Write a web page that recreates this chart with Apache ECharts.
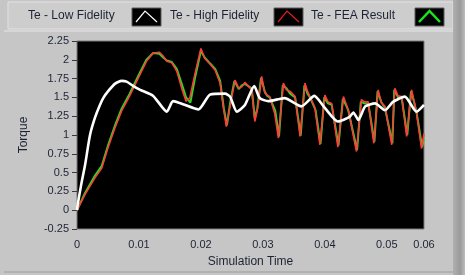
<!DOCTYPE html>
<html>
<head>
<meta charset="utf-8">
<script src="https://cdn.jsdelivr.net/npm/echarts@6/dist/echarts.min.js"></script>
<style>
html,body{margin:0;padding:0;background:#c6c6c6;}
#chart{width:465px;height:275px;}
</style>
</head>
<body>
<div id="chart"></div>
<script>
// ---- data ----
var seriesNames = ['Te - Low Fidelity', 'Te - High Fidelity', 'Te - FEA Result'];

var timeLow   = [0, 0.0001, 0.0007, 0.0013, 0.0021, 0.0029, 0.0037, 0.0043, 0.0050, 0.0061, 0.0072, 0.0080, 0.0091, 0.0102, 0.0123, 0.0145, 0.0155, 0.0171, 0.0196, 0.0215, 0.0239, 0.0247, 0.0258, 0.0271, 0.0286, 0.0295, 0.0309, 0.0327, 0.0335, 0.0362, 0.0383, 0.0400, 0.0421, 0.0440, 0.0446, 0.0454, 0.0465, 0.0481, 0.0497, 0.0510, 0.0529, 0.0548, 0.0560];
var torqueLow = [0, 0.07, 0.35, 0.60, 1.00, 1.23, 1.40, 1.50, 1.58, 1.68, 1.72, 1.71, 1.65, 1.60, 1.52, 1.31, 1.45, 1.41, 1.34, 1.54, 1.55, 1.51, 1.31, 1.40, 1.65, 1.49, 1.45, 1.48, 1.49, 1.38, 1.52, 1.36, 1.18, 1.24, 1.30, 1.20, 1.38, 1.42, 1.33, 1.44, 1.51, 1.31, 1.40];

var timeHigh   = [0, 0.0013, 0.0029, 0.0040, 0.0050, 0.0061, 0.0072, 0.0085, 0.0099, 0.0112, 0.0123, 0.0133, 0.0139, 0.0145, 0.0153, 0.0161, 0.0169, 0.0176, 0.0182, 0.0190, 0.0200, 0.0206, 0.0215, 0.0223, 0.0231, 0.0236, 0.0241, 0.0247, 0.0255, 0.0261, 0.0266, 0.0271, 0.0274, 0.0282, 0.0287, 0.0292, 0.0298, 0.0303, 0.0307, 0.0311, 0.0319, 0.0325, 0.0333, 0.0338, 0.0344, 0.0352, 0.0360, 0.0368, 0.0372, 0.0376, 0.0384, 0.0392, 0.0400, 0.0405, 0.0411, 0.0421, 0.0430, 0.0434, 0.0438, 0.0451, 0.0459, 0.0464, 0.0470, 0.0479, 0.0486, 0.0491, 0.0497, 0.0508, 0.0513, 0.0518, 0.0524, 0.0532, 0.0540, 0.0544, 0.0548, 0.0556, 0.0560];
var torqueHigh = [0, 0.21, 0.43, 0.56, 0.83, 1.09, 1.32, 1.52, 1.76, 1.98, 2.09, 2.10, 2.05, 1.98, 1.96, 1.85, 1.62, 1.45, 1.49, 1.80, 2.15, 2.02, 1.94, 1.86, 1.69, 1.38, 1.11, 1.38, 1.73, 1.62, 1.64, 1.70, 1.69, 1.60, 1.18, 1.38, 1.78, 1.56, 1.53, 1.51, 1.29, 0.96, 1.69, 1.60, 1.58, 1.51, 0.98, 1.69, 1.58, 1.51, 1.36, 0.87, 1.53, 1.44, 1.42, 0.84, 1.51, 1.42, 1.33, 0.78, 1.47, 1.44, 1.44, 0.89, 1.60, 1.43, 1.38, 0.87, 1.62, 1.52, 1.51, 0.98, 1.60, 1.45, 1.29, 0.82, 1.02];

var timeFEA   = [0, 0.0013, 0.0029, 0.0040, 0.0050, 0.0061, 0.0072, 0.0085, 0.0099, 0.0112, 0.0123, 0.0133, 0.0139, 0.0145, 0.0153, 0.0161, 0.0169, 0.0176, 0.0183, 0.0190, 0.0200, 0.0206, 0.0215, 0.0223, 0.0231, 0.0237, 0.0242, 0.0247, 0.0254, 0.0261, 0.0266, 0.0271, 0.0274, 0.0282, 0.0287, 0.0291, 0.0297, 0.0303, 0.0307, 0.0311, 0.0320, 0.0326, 0.0332, 0.0338, 0.0344, 0.0352, 0.0361, 0.0367, 0.0372, 0.0376, 0.0385, 0.0393, 0.0399, 0.0405, 0.0411, 0.0422, 0.0429, 0.0434, 0.0438, 0.0452, 0.0458, 0.0464, 0.0470, 0.0480, 0.0485, 0.0491, 0.0497, 0.0509, 0.0512, 0.0518, 0.0524, 0.0533, 0.0539, 0.0544, 0.0548, 0.0557, 0.0560];
var torqueFEA = [0, 0.23, 0.46, 0.59, 0.86, 1.12, 1.35, 1.55, 1.79, 2.00, 2.09, 2.08, 2.03, 1.99, 1.97, 1.88, 1.68, 1.50, 1.43, 1.74, 2.12, 2.03, 1.95, 1.88, 1.72, 1.35, 1.13, 1.42, 1.72, 1.61, 1.66, 1.68, 1.66, 1.62, 1.22, 1.35, 1.76, 1.58, 1.52, 1.50, 1.32, 0.98, 1.66, 1.62, 1.55, 1.50, 0.99, 1.66, 1.55, 1.50, 1.33, 0.88, 1.50, 1.42, 1.40, 0.86, 1.48, 1.40, 1.32, 0.80, 1.44, 1.42, 1.42, 0.91, 1.58, 1.44, 1.36, 0.89, 1.60, 1.50, 1.49, 1.00, 1.58, 1.44, 1.30, 0.84, 0.95];

var xTickValues = [0, 0.01, 0.02, 0.03, 0.04, 0.05, 0.056];
var xTickLabels = ['0', '0.01', '0.02', '0.03', '0.04', '0.05', '0.06'];
var yMin = -0.25, yMax = 2.25, yStep = 0.25;
var xMin = 0, xMax = 0.056;

function pairs(t, v) { return t.map(function (x, i) { return [x, v[i]]; }); }

var chart = echarts.init(document.getElementById('chart'), null, {renderer: 'canvas'});
var FONT = 'Liberation Sans';
var TXT = '#1c2333';

// legend (drawn as graphic: text + black sample boxes)
var legendItems = [
  {text: seriesNames[0], tx: 28, bx: 132, color: '#ffffff', w: 1.2, peak: 0.45},
  {text: seriesNames[1], tx: 170, bx: 274, color: '#e02020', w: 1.2, peak: 0.45},
  {text: seriesNames[2], tx: 311, bx: 415, color: '#18e818', w: 2.5, peak: 0.5}
];
var graphics = [
  {type: 'rect', shape: {x: 0, y: 0, width: 465, height: 275}, style: {fill: '#c6c6c6'}, z: -10, silent: true},
  {type: 'rect', shape: {x: 8, y: 2, width: 445, height: 27}, style: {fill: '#cdcdcd', stroke: '#e2e2e2', lineWidth: 1}, z: -9, silent: true},
  {type: 'rect', shape: {x: 453, y: 0, width: 12, height: 275}, style: {fill: new echarts.graphic.LinearGradient(0, 0, 1, 0, [{offset: 0, color: '#b0b0b0'}, {offset: 0.6, color: '#9a9a9a'}, {offset: 1, color: '#bdbdbd'}])}, z: -9, silent: true},
  {type: 'line', shape: {x1: 4, y1: 31, x2: 453, y2: 31}, style: {stroke: '#e6e6e6', lineWidth: 1}, z: -9, silent: true},
  {type: 'line', shape: {x1: 4, y1: 272, x2: 453, y2: 272}, style: {stroke: '#9c9c9c', lineWidth: 1}, z: -9, silent: true}
];
legendItems.forEach(function (it) {
  graphics.push({type: 'text', x: it.tx, y: 16, style: {text: it.text, font: '12px "' + FONT + '"', fill: TXT, verticalAlign: 'middle'}, z: 10});
  graphics.push({type: 'rect', shape: {x: it.bx, y: 8, width: 29, height: 18}, style: {fill: '#000', stroke: '#5a5a5a', lineWidth: 1}, z: 10});
  var px = it.bx + 29 * it.peak;
  graphics.push({type: 'polyline', shape: {points: [[it.bx + 4, 22], [px, 11], [it.bx + 25, 22]]}, style: {stroke: it.color, lineWidth: it.w, fill: null}, z: 11});
});

var option = {
  animation: false,
  backgroundColor: '#c6c6c6',
  textStyle: {fontFamily: FONT},
  graphic: graphics,
  grid: {left: 77, right: 41, top: 41, bottom: 46, show: true, backgroundColor: '#000000', borderColor: '#7a7a7a', borderWidth: 1},
  xAxis: {
    type: 'value', min: xMin, max: xMax,
    name: 'Simulation Time', nameLocation: 'middle', nameGap: 27,
    nameTextStyle: {color: TXT, fontSize: 12, fontFamily: FONT},
    axisLine: {show: false},
    axisTick: {show: false, customValues: xTickValues},
    splitLine: {show: false},
    axisLabel: {
      customValues: xTickValues, color: TXT, fontSize: 11, fontFamily: FONT, margin: 10,
      formatter: function (v) {
        var i = xTickValues.indexOf(v);
        if (i < 0) { for (var k = 0; k < xTickValues.length; k++) { if (Math.abs(xTickValues[k] - v) < 1e-9) { i = k; break; } } }
        return i >= 0 ? xTickLabels[i] : '';
      }
    }
  },
  yAxis: {
    type: 'value', min: yMin, max: yMax, interval: yStep,
    name: 'Torque', nameLocation: 'middle', nameGap: 47, nameRotate: 90,
    nameTextStyle: {color: TXT, fontSize: 12, fontFamily: FONT},
    axisLine: {show: false},
    axisTick: {show: true, length: 5, lineStyle: {color: '#3a3a3a', width: 1}},
    splitLine: {show: false},
    axisLabel: {color: TXT, fontSize: 11, fontFamily: FONT, margin: 8}
  },
  series: [
    {name: seriesNames[2], type: 'line', data: pairs(timeFEA, torqueFEA), showSymbol: false, lineStyle: {color: '#22dd22', width: 2}, itemStyle: {color: '#22dd22'}, z: 2},
    {name: seriesNames[1], type: 'line', data: pairs(timeHigh, torqueHigh), showSymbol: false, lineStyle: {color: '#ff3b3b', width: 1.6}, itemStyle: {color: '#ff3b3b'}, z: 3},
    {name: seriesNames[0], type: 'line', data: pairs(timeLow, torqueLow), showSymbol: false, smooth: 0.2, lineStyle: {color: '#ffffff', width: 2.6}, itemStyle: {color: '#ffffff'}, z: 4}
  ]
};
chart.setOption(option);
</script>
</body>
</html>
